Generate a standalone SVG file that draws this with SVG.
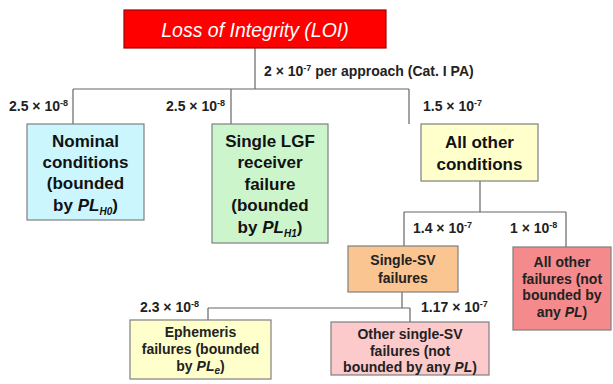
<svg xmlns="http://www.w3.org/2000/svg" width="613" height="384" viewBox="0 0 613 384">
<style>
.box{stroke:#7f7f7f;stroke-width:1.2}
.big{font-family:"Liberation Sans",Arial,sans-serif;font-weight:bold;font-size:17px;fill:#111;text-anchor:middle}
.sm{font-family:"Liberation Sans",Arial,sans-serif;font-weight:bold;font-size:14px;fill:#222;text-anchor:middle}
.lab{font-family:"Liberation Sans",Arial,sans-serif;font-weight:bold;font-size:14px;fill:#222}
.sup{font-size:9px}
.it{font-style:italic}
.sub{font-size:10px;font-style:italic}
.con{stroke:#666;stroke-width:1.2;fill:none}
</style>
<rect width="613" height="384" fill="#fff"/>
<g id="connectors">
<path class="con" d="M255 48V89M73 89H409M73 89V124M231 89V124M409 89V124"/>
<path class="con" d="M480 181V212M404 212H566M404 212V246M566 212V247"/>
<path class="con" d="M402 292V308M208 308H410M208 308V320M410 308V322"/>
</g>
<g id="labels">
<text class="lab" x="264" y="76">2 × 10<tspan class="sup" dy="-5">-7</tspan><tspan dy="5"> per approach (Cat. I PA)</tspan></text>
<text class="lab" x="9" y="111">2.5 × 10<tspan class="sup" dy="-5">-8</tspan></text>
<text class="lab" x="166" y="111">2.5 × 10<tspan class="sup" dy="-5">-8</tspan></text>
<text class="lab" x="423" y="111">1.5 × 10<tspan class="sup" dy="-5">-7</tspan></text>
<text class="lab" x="413" y="233">1.4 × 10<tspan class="sup" dy="-5">-7</tspan></text>
<text class="lab" x="510" y="233">1 × 10<tspan class="sup" dy="-5">-8</tspan></text>
<text class="lab" x="140" y="312">2.3 × 10<tspan class="sup" dy="-5">-8</tspan></text>
<text class="lab" x="421" y="312">1.17 × 10<tspan class="sup" dy="-5">-7</tspan></text>
</g>
<g id="loi">
<rect x="124" y="10" width="262" height="38" fill="#ff0000" stroke="#a00000" stroke-width="1.2"/>
<text x="255" y="37" font-family="Liberation Sans,Arial,sans-serif" font-style="italic" font-size="19.5" fill="#fff" text-anchor="middle">Loss of Integrity (LOI)</text>
</g>
<g id="nominal">
<rect class="box" x="27" y="124" width="117" height="96" fill="#ccf6fd"/>
<text class="big" x="85.5" y="147">Nominal</text>
<text class="big" x="85.5" y="168">conditions</text>
<text class="big" x="85.5" y="189">(bounded</text>
<text class="big" x="85.5" y="211">by <tspan class="it">PL</tspan><tspan class="sub" dy="4">H0</tspan><tspan dy="-4">)</tspan></text>
</g>
<g id="lgf">
<rect class="box" x="212" y="124" width="116" height="119" fill="#ccf5cc"/>
<text class="big" x="270" y="147">Single LGF</text>
<text class="big" x="270" y="168">receiver</text>
<text class="big" x="270" y="190">failure</text>
<text class="big" x="270" y="211">(bounded</text>
<text class="big" x="270" y="233">by <tspan class="it">PL</tspan><tspan class="sub" dy="4">H1</tspan><tspan dy="-4">)</tspan></text>
</g>
<g id="allother">
<rect class="box" x="421" y="124" width="117" height="57" fill="#ffffcc"/>
<text class="big" x="479.5" y="148">All other</text>
<text class="big" x="479.5" y="170">conditions</text>
</g>
<g id="singlesv">
<rect class="box" x="348" y="246" width="110" height="46" fill="#fac590"/>
<text class="sm" x="403" y="265">Single-SV</text>
<text class="sm" x="403" y="283">failures</text>
</g>
<g id="allfail">
<rect class="box" x="513" y="247" width="98" height="83" fill="#f48a8c"/>
<text class="sm" x="562" y="267">All other</text>
<text class="sm" x="562" y="284">failures (not</text>
<text class="sm" x="562" y="300">bounded by</text>
<text class="sm" x="562" y="317">any <tspan class="it">PL</tspan>)</text>
</g>
<g id="ephemeris">
<rect class="box" x="130" y="320" width="141" height="59" fill="#ffffcc"/>
<text class="sm" x="200.5" y="337">Ephemeris</text>
<text class="sm" x="200.5" y="354">failures (bounded</text>
<text class="sm" x="200.5" y="371">by <tspan class="it">PL</tspan><tspan class="sub" dy="3">e</tspan><tspan dy="-3">)</tspan></text>
</g>
<g id="othersv">
<rect class="box" x="331" y="322" width="158" height="53" fill="#fccaca"/>
<text class="sm" x="410" y="339">Other single-SV</text>
<text class="sm" x="410" y="356">failures (not</text>
<text class="sm" x="410" y="372">bounded by any <tspan class="it">PL</tspan>)</text>
</g>
</svg>
